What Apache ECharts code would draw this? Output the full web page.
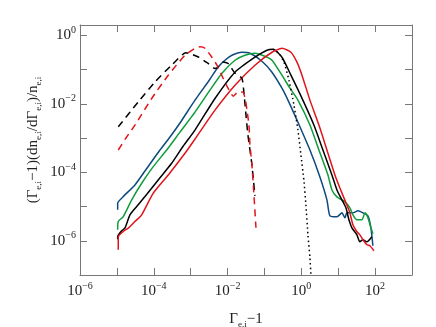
<!DOCTYPE html>
<html>
<head>
<meta charset="utf-8">
<script src="https://cdn.jsdelivr.net/npm/echarts@6/dist/echarts.min.js"></script>
<style>
html, body { margin: 0; padding: 0; background: #fff; }
#chart { width: 436px; height: 327px; }
</style>
</head>
<body>
<div id="chart"></div>
<script>
// values: x = Gamma-1, y = (Gamma-1)(dn/dGamma)/n

// blue solid
var blueX = [1.05e-5, 1.05e-5, 1.49e-5, 3.09e-5, 5.78e-5, 1.47e-4, 2.75e-4, 5.13e-4, 1.31e-3, 3.33e-3, 5.50e-3, 8.51e-3, 1.31e-2, 2.45e-2, 4.05e-2, 8.55e-2, 0.160, 0.298, 0.434, 0.761, 1.71, 3.19, 4.94, 5.96, 9.23, 12.6, 15.2, 17.2, 25.0, 34.2, 46.7, 63.8, 76.9, 87.1];
var blueY = [7.98e-6, 1.25e-5, 1.95e-5, 4.28e-5, 1.09e-4, 4.47e-4, 1.07e-3, 2.74e-3, 1.28e-2, 5.22e-2, 0.117, 0.187, 0.261, 0.320, 0.299, 0.175, 0.0836, 0.0286, 0.0128, 3.34e-3, 4.47e-4, 7.31e-5, 1.56e-5, 5.35e-6, 5.0e-6, 6.53e-6, 4.67e-6, 6.53e-6, 6.53e-6, 7.46e-6, 6.53e-6, 5.35e-6, 2.39e-6, 7.14e-7];

// green solid
var greenX = [1.05e-5, 1.09e-5, 1.49e-5, 2.52e-5, 4.70e-5, 9.68e-5, 2.24e-4, 5.13e-4, 1.31e-3, 3.33e-3, 7.05e-3, 1.59e-2, 2.96e-2, 5.53e-2, 0.103, 0.160, 0.298, 0.491, 0.809, 1.71, 3.00, 5.26, 6.75, 9.23, 15.2, 20.7, 25.0, 32.1, 43.9, 53.0, 63.8, 76.9, 87.1];
var greenY = [2.09e-6, 3.65e-6, 5.09e-6, 1.56e-5, 4.79e-5, 1.46e-4, 4.47e-4, 1.49e-3, 5.71e-3, 0.0250, 0.0782, 0.187, 0.261, 0.299, 0.244, 0.187, 0.0684, 0.0286, 0.0128, 2.39e-3, 4.47e-4, 8.36e-5, 3.05e-5, 1.91e-5, 1.37e-5, 9.14e-6, 5.71e-6, 4.09e-6, 4.09e-6, 6.53e-6, 4.67e-6, 2.39e-6, 1.60e-6];

// black solid
var blackX = [1.05e-5, 1.05e-5, 1.29e-5, 1.66e-5, 2.26e-5, 3.44e-5, 5.78e-5, 1.32e-4, 3.05e-4, 6.30e-4, 1.31e-3, 4.56e-3, 1.59e-2, 5.53e-2, 0.117, 0.170, 0.298, 0.522, 1.10, 2.19, 3.85, 6.75, 9.23, 12.6, 16.2, 19.5, 23.5, 32.1, 38.7, 46.7, 60.0, 81.8];
var blackY = [1.1e-6, 1.31e-6, 1.87e-6, 2.39e-6, 5.71e-6, 9.98e-6, 1.95e-5, 5.97e-5, 1.83e-4, 5.84e-4, 1.71e-3, 0.0143, 0.0836, 0.229, 0.366, 0.391, 0.229, 0.0684, 0.0128, 2.39e-3, 4.47e-4, 8.36e-5, 3.05e-5, 1.56e-5, 9.14e-6, 4.09e-6, 2.39e-6, 1.49e-6, 9.33e-7, 1.07e-6, 9.33e-7, 1.31e-6];

// red solid
var redX = [1.09e-5, 1.09e-5, 1.49e-5, 2.04e-5, 3.09e-5, 4.70e-5, 9.68e-5, 2.47e-4, 7.01e-4, 1.31e-3, 4.56e-3, 1.59e-2, 5.53e-2, 0.160, 0.298, 0.522, 0.761, 1.04, 1.71, 3.00, 4.94, 8.14, 11.1, 16.2, 20.7, 25.0, 32.1, 38.7, 46.7, 60.0, 72.3, 92.7];
var redY = [5.46e-7, 1.28e-6, 1.87e-6, 2.34e-6, 3.65e-6, 5.71e-6, 2.45e-5, 8.36e-5, 3.58e-4, 9.35e-4, 6.53e-3, 0.0350, 0.134, 0.320, 0.418, 0.320, 0.164, 0.0684, 0.0128, 2.39e-3, 4.47e-4, 8.36e-5, 3.49e-5, 1.28e-5, 6.53e-6, 2.92e-6, 1.83e-6, 1.49e-6, 1.07e-6, 7.64e-7, 7.14e-7, 5.10e-7];

// black dashed
var blackDashX = [1.09e-5, 3.80e-5, 1.08e-4, 3.05e-4, 7.46e-4, 1.61e-3, 3.00e-3, 4.56e-3, 5.60e-3, 7.64e-3, 1.04e-2, 1.59e-2, 2.45e-2, 2.78e-2, 3.16e-2, 3.57e-2, 4.05e-2, 4.58e-2, 5.53e-2];
var blackDashY = [2.13e-3, 0.0114, 0.0436, 0.134, 0.309, 0.233, 0.150, 0.107, 0.119, 0.167, 0.150, 0.0782, 0.0559, 0.0205, 4.68e-3, 1.22e-3, 4.47e-4, 1.63e-4, 2.04e-5];

// red dashed
var redDashX = [1.09e-5, 1.76e-5, 3.09e-5, 8.77e-5, 2.47e-4, 7.01e-4, 1.31e-3, 1.79e-3, 2.44e-3, 3.71e-3, 5.16e-3, 7.64e-3, 1.04e-2, 1.43e-2, 1.95e-2, 2.61e-2, 3.05e-2, 3.36e-2, 3.80e-2, 4.05e-2, 4.58e-2, 5.19e-2, 5.89e-2];
var redDashY = [4.47e-4, 1.0e-3, 2.39e-3, 0.0143, 0.0684, 0.261, 0.418, 0.462, 0.418, 0.233, 0.134, 0.0548, 0.0280, 0.0167, 0.0223, 0.0219, 0.0128, 6.53e-3, 2.39e-3, 6.25e-4, 1.63e-4, 2.18e-5, 2.39e-6];

// black dotted
var dotX = [0.170, 0.247, 0.337, 0.461, 0.630, 0.809, 0.975, 1.17, 1.33, 1.51, 1.71, 1.82];
var dotY = [0.391, 0.299, 0.164, 0.0489, 9.14e-3, 1.71e-3, 3.20e-4, 5.97e-5, 1.12e-5, 1.49e-6, 3.19e-7, 1.0e-7];

var xMin = 1e-6, xMax = 1e3;
var yMin = 1e-7, yMax = 2;

var FONT = '"Liberation Serif", "DejaVu Serif", serif';
var AXIS_COLOR = '#777';
var TEXT_COLOR = '#222';

function pairs(xs, ys) {
    var out = [];
    for (var i = 0; i < xs.length; i++) {
        out.push([xs[i], ys[i]]);
    }
    return out;
}

// only label every second decade, as 10^n
function powLabel(v) {
    var e = Math.log(v) / Math.LN10;
    var r = Math.round(e);
    if (Math.abs(e - r) > 0.01 || r % 2 !== 0) {
        return '';
    }
    return '{b|10}{s|' + (r < 0 ? '\u2212' + (-r) : r) + '}';
}

var labelRich = {
    b: { fontSize: 15, fontFamily: FONT, color: TEXT_COLOR, lineHeight: 20 },
    s: { fontSize: 10, fontFamily: FONT, color: TEXT_COLOR, lineHeight: 20, verticalAlign: 'top' }
};

function makeAxis(kind, pos, showLabel) {
    return {
        type: 'log',
        logBase: 10,
        position: pos,
        min: kind === 'x' ? xMin : yMin,
        max: kind === 'x' ? xMax : yMax,
        splitNumber: 10,
        axisLine: { show: true, onZero: false, lineStyle: { color: AXIS_COLOR, width: 1 } },
        axisTick: { show: true, inside: true, length: 7, lineStyle: { color: AXIS_COLOR, width: 1 } },
        minorTick: { show: false },
        splitLine: { show: false },
        axisLabel: {
            show: showLabel,
            margin: kind === 'x' ? 6 : 4,
            formatter: powLabel,
            rich: labelRich,
            showMinLabel: true,
            showMaxLabel: true,
            hideOverlap: false
        }
    };
}

function makeLine(xs, ys, color, dash) {
    return {
        type: 'line',
        data: pairs(xs, ys),
        xAxisIndex: 0,
        yAxisIndex: 0,
        showSymbol: false,
        symbol: 'none',
        smooth: 0.2,
        clip: true,
        lineStyle: { color: color, width: 1.5, type: dash || 'solid', cap: 'butt' },
        silent: true
    };
}

var chart = echarts.init(document.getElementById('chart'), null, { renderer: 'canvas' });

var option = {
    animation: false,
    backgroundColor: '#fff',
    grid: { left: 80, right: 24, top: 25, bottom: 52, containLabel: false, outerBoundsMode: 'none' },
    xAxis: [
        Object.assign(makeAxis('x', 'bottom', true), {
            name: '\u0393{sub|e,i}\u22121',
            nameLocation: 'middle',
            nameGap: 34,
            nameTextStyle: {
                fontSize: 15, fontFamily: FONT, color: TEXT_COLOR, lineHeight: 20,
                rich: { sub: { fontSize: 9, fontFamily: FONT, color: TEXT_COLOR, lineHeight: 20, verticalAlign: 'bottom' } }
            }
        }),
        makeAxis('x', 'top', false)
    ],
    yAxis: [
        makeAxis('y', 'left', true),
        makeAxis('y', 'right', false)
    ],
    graphic: [{
        type: 'text',
        x: 33,
        y: 140,
        rotation: Math.PI / 2,
        style: {
            text: '(\u0393{sub|e,i}\u22121)(dn{sub|e,i}/d\u0393{sub|e,i})/n{sub|e,i}',
            fontSize: 15,
            fontFamily: FONT,
            fill: TEXT_COLOR,
            align: 'center',
            verticalAlign: 'middle',
            lineHeight: 20,
            rich: { sub: { fontSize: 9, fontFamily: FONT, fill: TEXT_COLOR, lineHeight: 20, verticalAlign: 'bottom' } }
        }
    }],
    series: [
        makeLine(blueX, blueY, '#0d4a7e'),
        makeLine(greenX, greenY, '#0f9d3a'),
        makeLine(blackX, blackY, '#000000'),
        makeLine(redX, redY, '#e0141b'),
        makeLine(blackDashX, blackDashY, '#000000', [7, 5]),
        makeLine(redDashX, redDashY, '#e0141b', [7, 5]),
        makeLine(dotX, dotY, '#000000', [1.5, 3])
    ]
};

chart.setOption(option);
</script>
</body>
</html>
